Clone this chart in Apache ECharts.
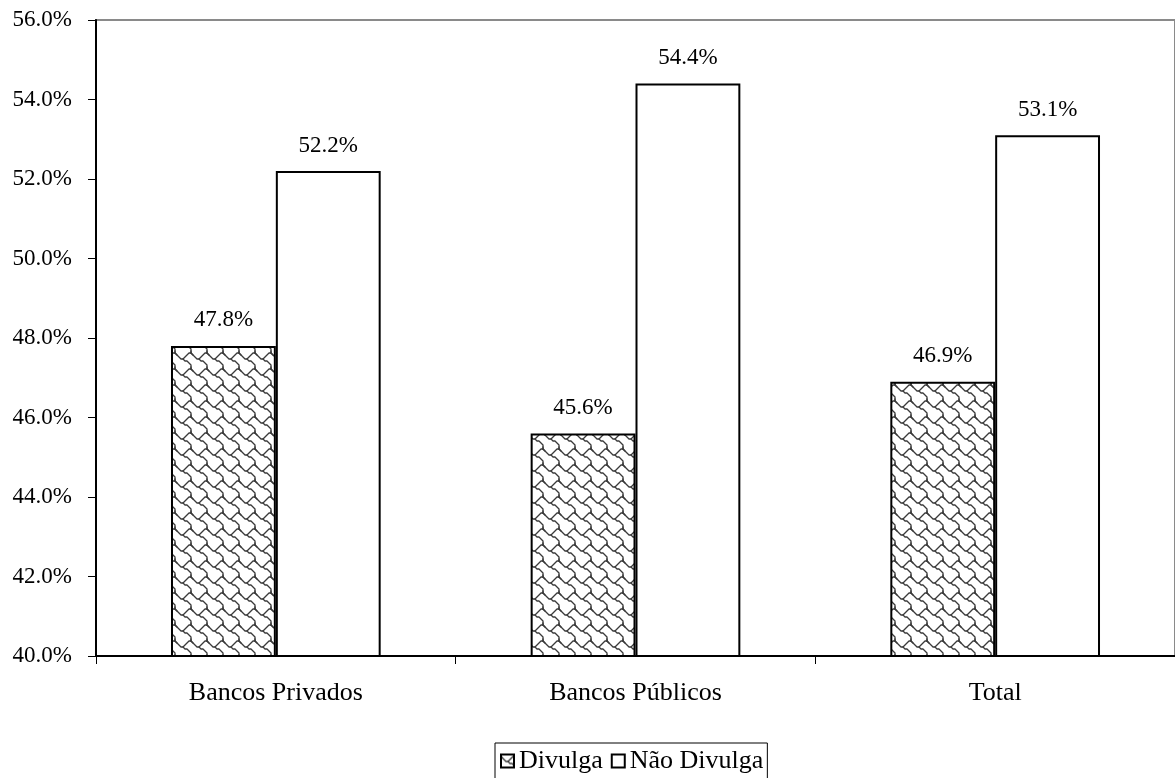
<!DOCTYPE html>
<html>
<head>
<meta charset="utf-8">
<script src="https://cdn.jsdelivr.net/npm/echarts@6/dist/echarts.min.js"></script>
<style>
  html, body { margin: 0; padding: 0; background: #fff; }
  #chart { width: 1175px; height: 778px; }
</style>
</head>
<body>
<div id="chart"></div>
<script>
// Chart data
const categories = ['Bancos Privados', 'Bancos Públicos', 'Total'];
const seriesNames = ['Divulga', 'Não Divulga'];
const divulga = [47.8, 45.6, 46.9];
const naoDivulga = [52.2, 54.4, 53.1];
const yMin = 40, yMax = 56, yStep = 2;

const FONT = '"Liberation Serif", "DejaVu Serif", serif';

// Shingle hatch tile (8x8 cell grid, scaled up) drawn on a canvas
function shingleTile(scale) {
  const n = 8, size = n * scale;
  const c = document.createElement('canvas');
  c.width = size; c.height = size;
  const ctx = c.getContext('2d');
  ctx.fillStyle = '#fff';
  ctx.fillRect(0, 0, size, size);
  ctx.strokeStyle = '#3a3a3a';
  ctx.lineWidth = 1.3;
  ctx.lineJoin = 'round';
  ctx.lineCap = 'round';
  const pA = [[-1,0],[0,1],[1,2],[2,3],[3,3],[4,2],[5,1],[6,0],[7,0],[8,1]];
  const pB = [[3,3],[4,4],[5,4],[6,5],[7,6],[7,7],[7,8]];
  const pC = [[7,-1],[7,0]];
  const offsets = [[0,0],[n,0],[-n,0],[0,n],[0,-n]];
  [pA, pB, pC].forEach(p => {
    offsets.forEach(([ox, oy]) => {
      ctx.beginPath();
      p.forEach(([x, y], i) => {
        const px = (x + ox + 0.5) * scale, py = (y + oy + 0.5) * scale;
        if (i === 0) ctx.moveTo(px, py); else ctx.lineTo(px, py);
      });
      ctx.stroke();
    });
  });
  return c;
}

const hatch = { image: shingleTile(2), repeat: 'repeat' };

const chart = echarts.init(document.getElementById('chart'), null, { renderer: 'canvas' });

const labelStyle = {
  show: true,
  position: 'top',
  distance: 14,
  color: '#000',
  fontFamily: FONT,
  fontSize: 23,
  formatter: p => p.value.toFixed(1) + '%'
};

chart.setOption({
  animation: false,
  backgroundColor: '#fff',
  textStyle: { fontFamily: FONT },
  grid: {
    left: 96, right: 0, top: 20, bottom: 122,
    show: true,
    borderColor: '#8a8a8a',
    borderWidth: 2,
    backgroundColor: 'transparent'
  },
  legend: {
    data: seriesNames,
    top: 743,
    left: 495,
    orient: 'horizontal',
    icon: 'rect',
    itemWidth: 13,
    itemHeight: 13,
    itemGap: 8,
    padding: [5, 4, 20, 5],
    borderColor: '#000',
    borderWidth: 1,
    textStyle: { fontFamily: FONT, fontSize: 26, color: '#000', padding: [0, 0, 0, 0] }
  },
  xAxis: {
    type: 'category',
    data: categories,
    axisLine: { lineStyle: { color: '#000', width: 2 } },
    axisTick: { show: true, length: 8, lineStyle: { color: '#000', width: 1 } },
    axisLabel: { color: '#000', fontFamily: FONT, fontSize: 26, margin: 24 },
    splitLine: { show: false }
  },
  yAxis: {
    type: 'value',
    min: yMin, max: yMax, interval: yStep,
    axisLine: { show: true, lineStyle: { color: '#000', width: 2 } },
    axisTick: { show: true, length: 8, lineStyle: { color: '#000', width: 1 } },
    axisLabel: {
      color: '#000', fontFamily: FONT, fontSize: 23, margin: 24,
      formatter: v => v.toFixed(1) + '%'
    },
    splitLine: { show: false }
  },
  series: [
    {
      name: seriesNames[0],
      type: 'bar',
      data: divulga,
      barGap: '0%',
      barCategoryGap: '41.7%',
      itemStyle: { color: hatch, borderColor: '#000', borderWidth: 2 },
      label: labelStyle
    },
    {
      name: seriesNames[1],
      type: 'bar',
      data: naoDivulga,
      barGap: '0%',
      barCategoryGap: '41.7%',
      itemStyle: { color: '#fff', borderColor: '#000', borderWidth: 2 },
      label: labelStyle
    }
  ]
});
</script>
</body>
</html>
